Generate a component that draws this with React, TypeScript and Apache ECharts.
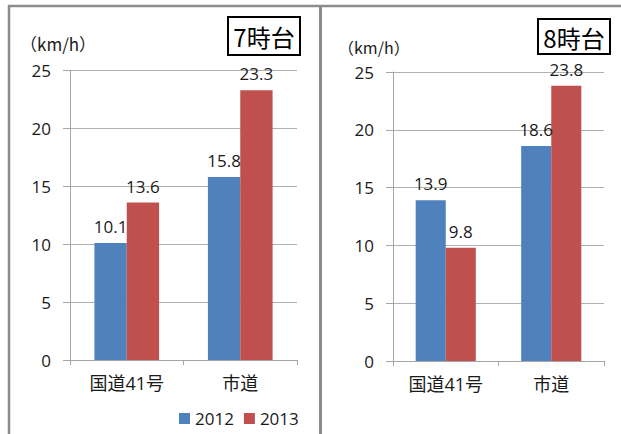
import React, { useEffect, useRef } from "react";
import * as echarts from "echarts";

const categories = ["国道41号", "市道"];
const seriesNames = ["2012", "2013"];
const am7_2012 = [10.1, 15.8];
const am7_2013 = [13.6, 23.3];
const am8_2012 = [13.9, 18.6];
const am8_2013 = [9.8, 23.8];
const panelTitles = ["7時台", "8時台"];
const unitLabel = "（km/h）";

const BLUE = "#4F81BD";
const RED = "#C0504D";
const FONT = "'Open Sans', 'Noto Sans CJK JP', sans-serif";
const CJK = "'Noto Sans CJK JP', sans-serif";
const TXT = "#1a1a1a";

export default function App() {
  const ref = useRef<HTMLDivElement>(null);
  useEffect(() => {
    if (!ref.current) return;
    const chart = echarts.init(ref.current, null, { renderer: "svg" });
    const xAxisBase = (gridIndex: number) => ({
      type: "category",
      gridIndex,
      data: categories,
      axisLine: { lineStyle: { color: "#a6a6a6", width: 1 } },
      axisTick: { show: true, length: 5, lineStyle: { color: "#a6a6a6" } },
      axisLabel: { color: TXT, fontSize: 18, fontFamily: FONT, margin: 14 },
    });
    const yAxisBase = (gridIndex: number) => ({
      type: "value",
      gridIndex,
      min: 0,
      max: 25,
      interval: 5,
      axisLine: { show: true, lineStyle: { color: "#a6a6a6", width: 1 } },
      axisTick: { show: true, length: 7, lineStyle: { color: "#a6a6a6" } },
      splitLine: { lineStyle: { color: "#b0b0b0", width: 1 } },
      axisLabel: { color: TXT, fontSize: 17, fontFamily: FONT, margin: 19 },
    });
    const label = {
      show: true,
      position: "top",
      distance: 8,
      color: TXT,
      fontSize: 17,
      fontFamily: FONT,
    };
    const bar = (name: string, data: number[], idx: number, color: string) => ({
      name,
      type: "bar",
      xAxisIndex: idx,
      yAxisIndex: idx,
      data,
      barGap: "0%",
      barCategoryGap: "43%",
      itemStyle: { color },
      label,
    });
    chart.setOption({
      animation: false,
      backgroundColor: "#ffffff",
      grid: [
        { left: 70, top: 70.5, right: 324, bottom: 74 },
        { left: 393, top: 72, right: 17, bottom: 73 },
      ],
      xAxis: [xAxisBase(0), xAxisBase(1)],
      yAxis: [yAxisBase(0), yAxisBase(1)],
      legend: {
        data: seriesNames,
        left: 174,
        top: 405,
        icon: "rect",
        itemWidth: 11,
        itemHeight: 11,
        itemGap: 10,
        textStyle: { color: TXT, fontSize: 17, fontFamily: FONT },
      },
      series: [
        bar(seriesNames[0], am7_2012, 0, BLUE),
        bar(seriesNames[1], am7_2013, 0, RED),
        bar(seriesNames[0], am8_2012, 1, BLUE),
        bar(seriesNames[1], am8_2013, 1, RED),
      ],
      graphic: [
        { type: "line", shape: { x1: 8, y1: 6, x2: 621, y2: 6 }, style: { stroke: "#8c8c8c", lineWidth: 2.5 } },
        { type: "line", shape: { x1: 9, y1: 5, x2: 9, y2: 434 }, style: { stroke: "#8c8c8c", lineWidth: 2.5 } },
        { type: "line", shape: { x1: 320.5, y1: 5, x2: 320.5, y2: 434 }, style: { stroke: "#8c8c8c", lineWidth: 3 } },
        { type: "rect", shape: { x: 228, y: 17, width: 72, height: 38 }, style: { fill: "#fff", stroke: "#000", lineWidth: 2 } },
        { type: "text", x: 264, y: 36, style: { text: panelTitles[0], font: `24px ${CJK}`, fill: "#000", align: "center", verticalAlign: "middle" } },
        { type: "rect", shape: { x: 538, y: 19, width: 72, height: 35 }, style: { fill: "#fff", stroke: "#000", lineWidth: 2 } },
        { type: "text", x: 574, y: 37, style: { text: panelTitles[1], font: `24px ${CJK}`, fill: "#000", align: "center", verticalAlign: "middle" } },
        { type: "text", x: 20, y: 43, style: { text: unitLabel, font: `17px ${CJK}`, fill: TXT, align: "left", verticalAlign: "middle" } },
        { type: "text", x: 338, y: 47, style: { text: unitLabel, font: `16px ${CJK}`, fill: TXT, align: "left", verticalAlign: "middle" } },
      ],
    });
    return () => chart.dispose();
  }, []);
  return (
    <div
      ref={ref}
      style={{ position: "absolute", left: 0, top: 0, width: 621, height: 434 }}
    />
  );
}
